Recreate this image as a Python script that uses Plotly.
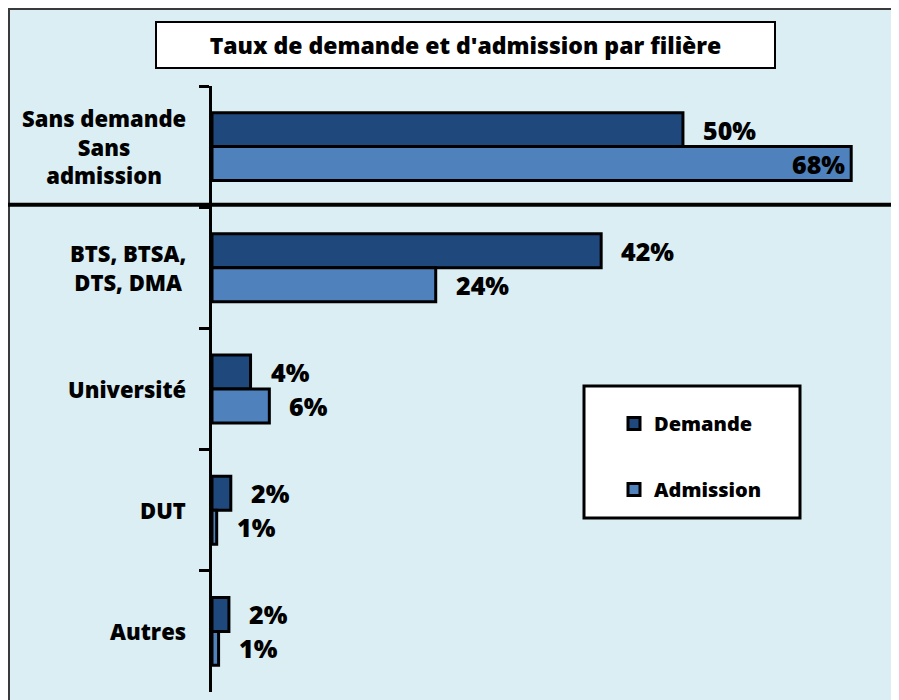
import plotly.graph_objects as go

# ---- data ----
categories = ["Sans demande<br>Sans<br>admission", "BTS, BTSA,<br>DTS, DMA", "Université", "DUT", "Autres"]
demande = [50.1, 41.4, 4.1, 2.0, 1.8]
admission = [68.0, 23.8, 6.1, 0.5, 0.7]
demande_labels = ["50%", "42%", "4%", "2%", "2%"]
admission_labels = ["68%", "24%", "6%", "1%", "1%"]
title_text = "Taux de demande et d'admission par filière"

FONT = "Open Sans"
WEIGHT = 800
DARK = "#1F497D"
LIGHT = "#4F81BD"
BG = "#DAEEF3"

OFF = 8  # page margin of the body
W, H = 891, 692
L, R, T, B = 204, 0, 78, 8
PW = W - L - R
PH = H - T - B


def px(sx):
    return (sx - OFF - L) / PW


def py(sy):
    return (H - B - (sy - OFF)) / PH


def f(size):
    return dict(family=FONT, size=size, color="black", weight=WEIGHT)


fig = go.Figure()
fig.add_trace(go.Bar(
    y=categories, x=demande, orientation="h", name="Demande", legendgroup="d",
    marker=dict(color=DARK, line=dict(color="black", width=3)), hoverinfo="skip"))
fig.add_trace(go.Bar(
    y=categories, x=admission, orientation="h", name="Admission", legendgroup="a",
    marker=dict(color=LIGHT, line=dict(color="black", width=3)), hoverinfo="skip"))

annotations = []
for c, v, t in zip(categories, demande, demande_labels):
    annotations.append(dict(x=v, y=c, xref="x", yref="y", text=t,
                            showarrow=False, xanchor="left", yanchor="middle",
                            xshift=18, yshift=17, font=f(25)))
for c, v, t in zip(categories, admission, admission_labels):
    inside = v > 60
    annotations.append(dict(x=v, y=c, xref="x", yref="y", text=t,
                            showarrow=False, xanchor="right" if inside else "left", yanchor="middle",
                            xshift=-4 if inside else 18, yshift=-17, font=f(25)))
for c in categories:
    annotations.append(dict(x=0, y=c, xref="paper", yref="y", text=c,
                            showarrow=False, xanchor="right", yanchor="middle", align="center",
                            xshift=-24, font=f(22)))
annotations.append(dict(x=px(465.5), y=py(45), xref="paper", yref="paper",
                        text=title_text, showarrow=False,
                        xanchor="center", yanchor="middle", width=615, height=42,
                        bgcolor="white", bordercolor="black", borderwidth=2,
                        font=f(23)))

shapes = [
    # frame: left and top edges only (the rest runs off the page)
    dict(type="line", xref="paper", yref="paper", x0=px(9), x1=px(9), y0=py(9), y1=py(760),
         line=dict(color="#3a3a3a", width=2)),
    dict(type="line", xref="paper", yref="paper", x0=px(8), x1=px(960), y0=py(9), y1=py(9),
         line=dict(color="#3a3a3a", width=2)),
    dict(type="line", xref="paper", yref="y", x0=px(8), x1=px(960), y0=0.48, y1=0.48,
         line=dict(color="black", width=4)),
    dict(type="rect", xref="paper", yref="paper", x0=px(584), x1=px(800), y0=py(518), y1=py(386),
         fillcolor="white", line=dict(color="black", width=3), layer="below"),
]

fig.update_layout(
    width=W, height=H,
    margin=dict(l=L, r=R, t=T, b=B, pad=0),
    paper_bgcolor=BG,
    plot_bgcolor="rgba(0,0,0,0)",
    barmode="group", bargap=0.44, bargroupgap=0,
    showlegend=True,
    legend=dict(x=px(614), y=py(404), xanchor="left", yanchor="top",
                bgcolor="rgba(0,0,0,0)", borderwidth=0,
                traceorder="grouped", tracegroupgap=37,
                font=f(20)),
    annotations=annotations,
    shapes=shapes,
    xaxis=dict(range=[0, PW / 9.40], visible=False, fixedrange=True),
    yaxis=dict(type="category", autorange="reversed", showline=True, linewidth=3,
               linecolor="black", ticks="outside", ticklen=10, tickwidth=3, tickcolor="black",
               tickson="boundaries", showticklabels=False, showgrid=False, zeroline=False,
               fixedrange=True),
    font=dict(family=FONT),
)

fig.write_html("out.html", post_script=(
    "document.documentElement.style.overflow='hidden';"
    "document.body.style.overflow='hidden';"))
